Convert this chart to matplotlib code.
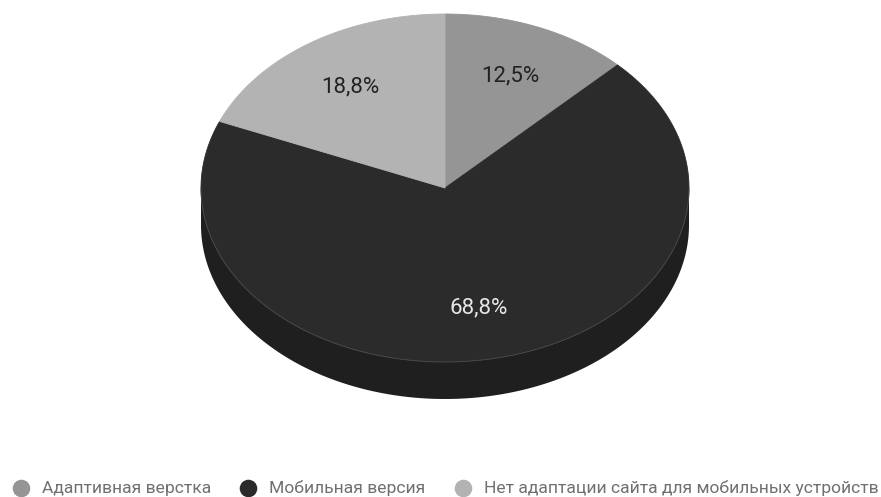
import numpy as np
import matplotlib.pyplot as plt

# survey answers: how many sites use each approach
labels = [
    "Адаптивная верстка",
    "Мобильная версия",
    "Нет адаптации сайта для мобильных устройств",
]
counts = [2, 11, 3]
top_colors = ["#959595", "#2b2b2b", "#b3b3b3"]
side_colors = ["#707070", "#1f1f1f", "#878787"]
text_colors = ["#222222", "#e8e8e8", "#222222"]

plt.rcParams["font.family"] = ["Roboto", "DejaVu Sans"]

W, H = 881, 497
fig = plt.figure(figsize=(W / 100, H / 100), dpi=100)
ax = fig.add_axes([0, 0, 1, 1])
ax.set_xlim(0, W)
ax.set_ylim(H, 0)
ax.axis("off")

# pie geometry (pixels, y grows downwards)
cx, cy = 445, 188
rx, ry = 244, 174
depth = 37


def arc(t0, t1, dy=0, n=200):
    t = np.linspace(t0, t1, n)
    return cx + rx * np.sin(t), cy - ry * np.cos(t) + dy


values = np.array(counts, dtype=float)
fracs = values / values.sum()
edges = np.concatenate([[0], np.cumsum(fracs)]) * 2 * np.pi

# side wall: only the front half (angles pi/2..3pi/2 clockwise from top)
for i in range(len(values)):
    a0 = max(edges[i], np.pi / 2)
    a1 = min(edges[i + 1], 3 * np.pi / 2)
    if a1 <= a0:
        continue
    xs, ys = arc(a0, a1)
    xb, yb = arc(a0, a1, dy=depth)
    ax.fill(np.concatenate([xs, xb[::-1]]), np.concatenate([ys, yb[::-1]]),
            color=side_colors[i], lw=0)

# top face
for i in range(len(values)):
    xs, ys = arc(edges[i], edges[i + 1])
    ax.fill(np.concatenate([[cx], xs]), np.concatenate([[cy], ys]),
            color=top_colors[i], lw=0.6, ec=top_colors[i])

# thin highlight along the front rim
xs, ys = arc(np.pi / 2, 3 * np.pi / 2)
ax.plot(xs, ys, color="#4a4a4a", lw=0.6)

# percentage labels
for i in range(len(values)):
    mid = (edges[i] + edges[i + 1]) / 2
    lx = cx + 0.7 * rx * np.sin(mid)
    ly = cy - 0.7 * ry * np.cos(mid)
    pct = f"{fracs[i] * 100:.1f}".replace(".", ",") + "%"
    ax.text(lx, ly, pct, ha="center", va="center", fontsize=16,
            color=text_colors[i])

# legend row along the bottom
fig.canvas.draw()
renderer = fig.canvas.get_renderer()
x = 21
ly = 488
for i in range(len(labels)):
    ax.scatter([x], [ly], s=160, color=top_colors[i], lw=0)
    t = ax.text(x + 21, ly, labels[i], ha="left", va="center",
                fontsize=12.6, color="#707070")
    bb = t.get_window_extent(renderer)
    x = bb.x1 + 37

fig.savefig("out.png", dpi=100)
